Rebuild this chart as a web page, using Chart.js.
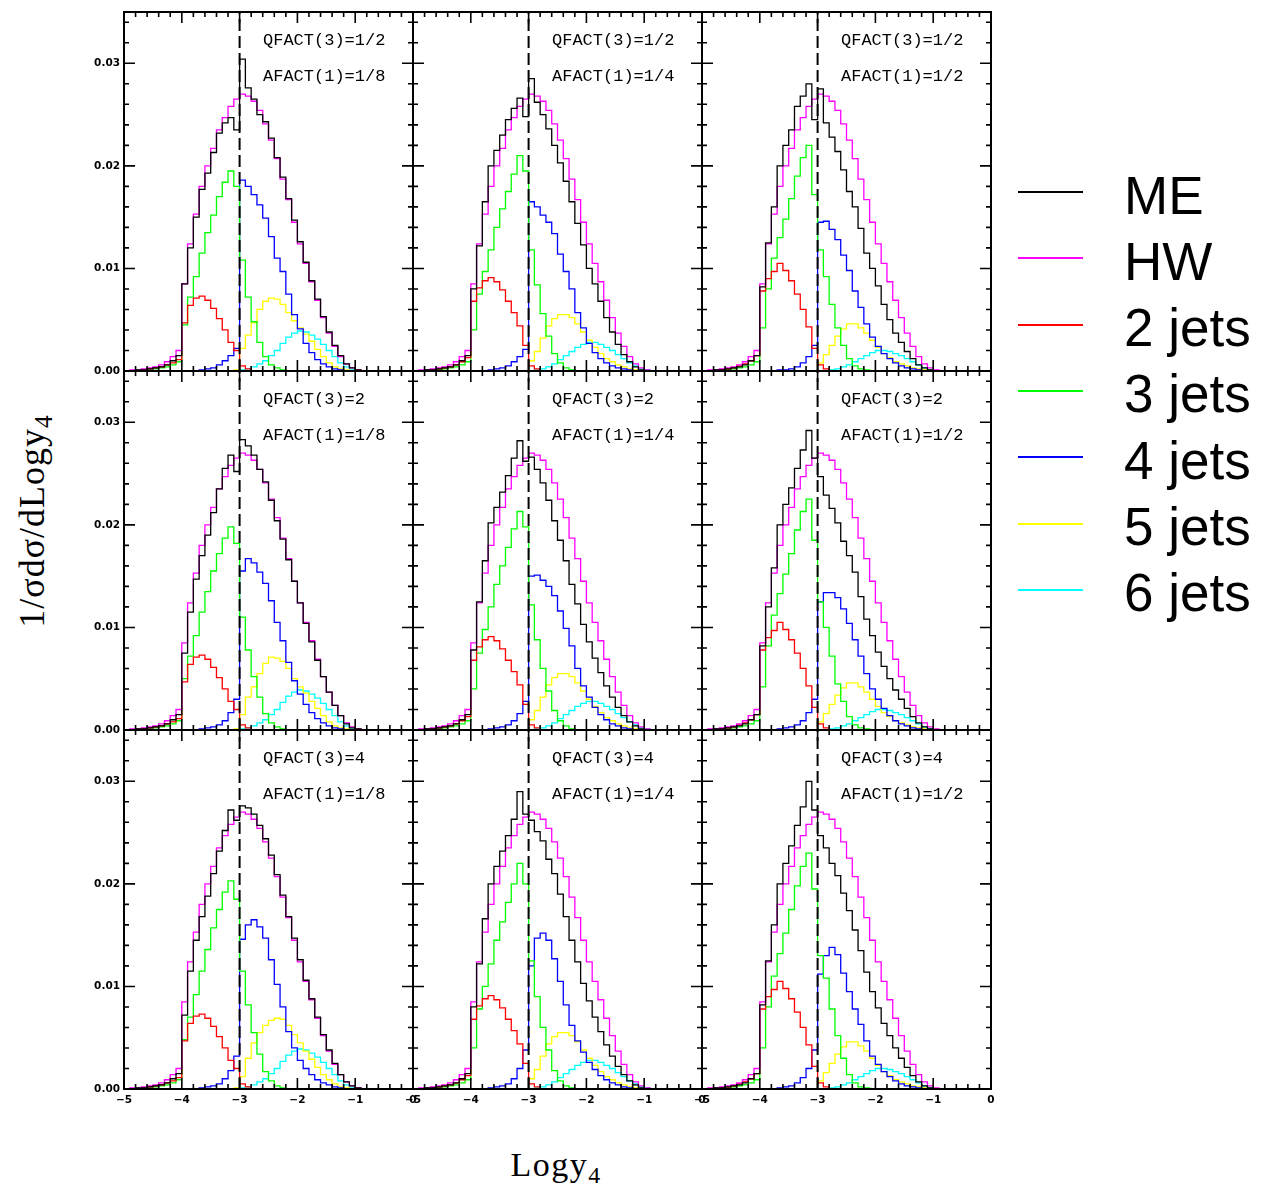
<!DOCTYPE html>
<html>
<head>
<meta charset="utf-8">
<script src="https://cdn.jsdelivr.net/npm/chart.js@4.4.1/dist/chart.umd.min.js"></script>
<style>
  body { margin: 0; background: #fff; width: 1265px; height: 1184px; position: relative; overflow: hidden; }
  canvas { position: absolute; }
  .title { position: absolute; font-family: "Liberation Serif", serif; color: #000; white-space: nowrap; }
  .title sub { font-size: 0.7em; vertical-align: -0.3em; line-height: 0; }
  .leg-line { position: absolute; height: 2px; }
  .leg-text { position: absolute; font-family: "Liberation Sans", Arial, sans-serif; font-size: 53px; line-height: 53px; color: #000; white-space: nowrap; }
</style>
</head>
<body>
<div class="title" id="ytitle" style="font-size:36px;letter-spacing:1px;left:32px;top:521px;transform:translate(-50%,-50%) rotate(-90deg);">1/σdσ/dLogy<sub>4</sub></div>
<div class="title" id="xtitle" style="font-size:34px;letter-spacing:1.5px;left:556px;top:1165px;transform:translate(-50%,-50%);">Logy<sub>4</sub></div>
<div id="legend"></div>
<script>
// histogram bin edges (Logy4), bin width 0.1
const binEdges = [-5.0,-4.9,-4.8,-4.7,-4.6,-4.5,-4.4,-4.3,-4.2,-4.1,
  -4.0,-3.9,-3.8,-3.7,-3.6,-3.5,-3.4,-3.3,-3.2,-3.1,
  -3.0,-2.9,-2.8,-2.7,-2.6,-2.5,-2.4,-2.3,-2.2,-2.1,
  -2.0,-1.9,-1.8,-1.7,-1.6,-1.5,-1.4,-1.3,-1.2,-1.1,
  -1.0,-0.9,-0.8,-0.7,-0.6,-0.5,-0.4,-0.3,-0.2,-0.1,0.0];

// bin contents in units of 1e-4
const UNIT = 1e-4;

const hw = [0,1,1,2,3,4,6,9,14,20, 85,124,153,180,200,217,235,247,258,265, 270,268,263,254,241,225,207,187,167,145, 124,105,87,69,52,37,24,14,7,3, 1,0,0,0,0,0,0,0,0,0];

// AFACT(1)=1/8
const me_q12_a18 = [0,0,1,1,2,3,4,6,10,15, 85,120,150,177,193,213,232,242,247,235, 304,276,265,250,243,227,208,189,168,147, 126,106,88,70,53,38,25,15,7,3, 1,0,0,0,0,0,0,0,0,0];
const me_q2_a18 = [0,0,1,1,2,3,4,6,10,15, 75,115,147,170,190,212,235,255,268,252, 283,277,268,254,242,224,204,186,166,145, 124,104,86,68,52,37,24,14,6,2, 1,0,0,0,0,0,0,0,0,0];
const me_q4_a18 = [0,0,1,1,2,3,4,6,10,15, 72,115,145,168,188,210,232,252,272,262, 276,274,268,257,244,228,209,189,168,147, 126,106,88,70,53,38,25,14,7,3, 1,0,0,0,0,0,0,0,0,0];
const jets2_a18 = [0,0,0,1,2,3,4,6,8,11, 47,64,71,73,69,61,51,40,28,20, 5,2,0,0,0,0,0,0,0,0, 0,0,0,0,0,0,0,0,0,0, 0,0,0,0,0,0,0,0,0,0];
const jets3_q12_a18 = [0,0,1,1,2,2,3,4,6,9, 45,72,92,115,135,152,170,184,195,180, 108,72,48,28,14,6,3,1,0,0, 0,0,0,0,0,0,0,0,0,0, 0,0,0,0,0,0,0,0,0,0];
const jets3_q2_a18 = [0,0,1,1,2,2,3,4,6,9, 50,72,92,115,135,155,172,187,198,182, 110,78,52,32,16,7,3,1,0,0, 0,0,0,0,0,0,0,0,0,0, 0,0,0,0,0,0,0,0,0,0];
const jets3_q4_a18 = [0,0,1,1,2,2,3,4,6,9, 48,70,92,115,136,157,175,192,203,185, 115,82,55,34,17,8,3,1,0,0, 0,0,0,0,0,0,0,0,0,0, 0,0,0,0,0,0,0,0,0,0];
const jets4_q12_a18 = [0,0,0,0,0,0,0,0,0,0, 0,0,0,1,2,3,6,10,15,22, 186,180,172,162,149,131,110,97,75,55, 41,27,18,11,7,4,2,1,0,0, 0,0,0,0,0,0,0,0,0,0];
const jets4_q2_a18 = [0,0,0,0,0,0,0,0,0,0, 0,0,0,1,2,3,5,9,17,30, 155,167,163,154,143,126,105,87,66,48, 35,25,17,11,7,4,2,1,0,0, 0,0,0,0,0,0,0,0,0,0];
const jets4_q4_a18 = [0,0,0,0,0,0,0,0,0,0, 0,0,0,1,2,3,5,10,18,32, 146,160,165,158,147,126,102,80,56,40, 28,20,14,9,6,4,2,1,0,0, 0,0,0,0,0,0,0,0,0,0];
const jets5_q12_a18 = [0,0,0,0,0,0,0,0,0,0, 0,0,0,0,0,0,0,0,0,1, 22,35,47,60,68,71,70,65,57,49, 42,36,29,21,14,8,4,2,1,0, 0,0,0,0,0,0,0,0,0,0];
const jets5_q2_a18 = [0,0,0,0,0,0,0,0,0,0, 0,0,0,0,0,0,0,0,0,1, 15,32,42,55,65,71,70,67,60,50, 42,36,28,21,14,8,4,2,1,0, 0,0,0,0,0,0,0,0,0,0];
const jets5_q4_a18 = [0,0,0,0,0,0,0,0,0,0, 0,0,0,0,0,0,0,0,0,1, 12,30,45,55,62,67,69,68,62,53, 45,37,29,21,14,9,5,2,1,0, 0,0,0,0,0,0,0,0,0,0];
const jets6_a18 = [0,0,0,0,0,0,0,0,0,0, 0,0,0,0,0,0,0,0,0,0, 1,2,4,7,10,15,20,27,33,37, 39,38,35,31,26,20,14,8,4,1, 0,0,0,0,0,0,0,0,0,0];

// AFACT(1)=1/4
const me_q12_a14 = [0,0,1,1,2,3,4,6,10,15, 80,122,165,200,215,230,245,256,266,248, 285,262,250,236,220,203,185,165,144,123, 100,85,68,52,38,26,16,9,4,1, 0,0,0,0,0,0,0,0,0,0];
const me_q2_a14 = [0,0,1,1,2,3,4,6,10,15, 78,125,165,202,217,232,248,265,282,262, 266,254,241,224,204,185,165,142,123,103, 86,70,56,43,32,22,14,8,4,1, 0,0,0,0,0,0,0,0,0,0];
const me_q4_a14 = [0,0,1,1,2,3,4,6,10,15, 80,122,166,200,217,232,247,263,290,268, 262,251,242,224,210,190,168,145,124,103, 86,70,56,43,32,22,14,8,4,1, 0,0,0,0,0,0,0,0,0,0];
const jets2_a14 = [0,0,0,1,2,3,4,6,9,13, 68,81,88,91,87,79,68,57,44,25, 5,2,0,0,0,0,0,0,0,0, 0,0,0,0,0,0,0,0,0,0, 0,0,0,0,0,0,0,0,0,0];
const jets3_q12_a14 = [0,0,1,1,1,2,3,4,6,9, 40,75,97,118,140,158,175,192,210,195, 118,84,56,34,17,8,3,1,0,0, 0,0,0,0,0,0,0,0,0,0, 0,0,0,0,0,0,0,0,0,0];
const jets3_q2_a14 = [0,0,1,1,1,2,3,4,6,9, 40,75,98,120,142,160,178,196,213,198, 122,88,60,38,19,9,4,1,0,0, 0,0,0,0,0,0,0,0,0,0, 0,0,0,0,0,0,0,0,0,0];
const jets3_q4_a14 = [0,0,1,1,1,2,3,4,6,9, 40,78,100,122,145,163,182,200,220,200, 125,90,60,38,18,8,3,1,0,0, 0,0,0,0,0,0,0,0,0,0, 0,0,0,0,0,0,0,0,0,0];
const jets4_q12_a14 = [0,0,0,0,0,0,0,0,0,0, 0,0,0,1,2,3,5,9,14,21, 165,160,152,145,134,114,97,80,57,42, 27,18,12,8,5,3,2,1,0,0, 0,0,0,0,0,0,0,0,0,0];
const jets4_q2_a14 = [0,0,0,0,0,0,0,0,0,0, 0,0,0,1,2,3,5,9,16,28, 150,151,146,140,131,116,99,82,60,43, 32,22,15,10,6,4,2,1,0,0, 0,0,0,0,0,0,0,0,0,0];
const jets4_q4_a14 = [0,0,0,0,0,0,0,0,0,0, 0,0,0,1,2,3,5,10,20,38, 120,147,152,145,127,105,82,62,47,36, 26,19,13,9,6,4,2,1,0,0, 0,0,0,0,0,0,0,0,0,0];
const jets5_a14 = [0,0,0,0,0,0,0,0,0,0, 0,0,0,0,0,0,0,0,0,0, 10,19,32,44,51,55,55,52,46,38, 30,23,17,12,9,6,4,2,1,0, 0,0,0,0,0,0,0,0,0,0];
const jets6_a14 = [0,0,0,0,0,0,0,0,0,0, 0,0,0,0,0,0,0,0,0,0, 0,1,2,4,7,11,15,19,23,26, 28,28,26,23,20,16,12,8,5,2, 1,0,0,0,0,0,0,0,0,0];

// AFACT(1)=1/2
const me_q12_a12 = [0,0,1,1,2,3,4,6,10,15, 82,125,160,200,220,235,258,268,280,245, 275,242,228,214,196,175,160,139,115,100, 83,65,50,37,28,19,12,6,3,1, 0,0,0,0,0,0,0,0,0,0];
const me_q2_a12 = [0,0,1,1,2,3,4,6,10,15, 82,120,158,200,220,236,255,273,292,265, 247,229,216,202,184,170,154,130,108,92, 76,62,50,39,30,21,13,7,3,1, 0,0,0,0,0,0,0,0,0,0];
const me_q4_a12 = [0,0,1,1,2,3,4,6,10,15, 82,125,160,200,220,237,257,275,300,272, 247,235,220,208,191,174,155,135,114,95, 79,64,52,40,30,21,13,7,3,1, 0,0,0,0,0,0,0,0,0,0];
const jets2_a12 = [0,0,0,1,2,3,5,7,10,15, 78,90,97,105,98,88,75,60,43,22, 6,2,0,0,0,0,0,0,0,0, 0,0,0,0,0,0,0,0,0,0, 0,0,0,0,0,0,0,0,0,0];
const jets3_q12_a12 = [0,0,1,1,1,2,3,4,6,9, 42,80,110,130,148,168,190,208,220,172, 118,92,65,42,25,12,5,2,1,0, 0,0,0,0,0,0,0,0,0,0, 0,0,0,0,0,0,0,0,0,0];
const jets3_q2_a12 = [0,0,1,1,1,2,3,4,6,9, 42,82,112,133,152,172,195,213,225,185, 125,100,72,45,28,13,5,2,1,0, 0,0,0,0,0,0,0,0,0,0, 0,0,0,0,0,0,0,0,0,0];
const jets3_q4_a12 = [0,0,1,1,1,2,3,4,6,9, 40,80,110,132,152,175,198,217,230,195, 130,108,78,52,30,14,6,2,1,0, 0,0,0,0,0,0,0,0,0,0, 0,0,0,0,0,0,0,0,0,0];
const jets4_q12_a12 = [0,0,0,0,0,0,0,0,0,0, 0,0,0,1,1,2,4,8,14,25, 145,146,138,128,113,98,78,62,46,33, 24,17,12,8,5,3,2,1,0,0, 0,0,0,0,0,0,0,0,0,0];
const jets4_q2_a12 = [0,0,0,0,0,0,0,0,0,0, 0,0,0,1,2,3,5,9,17,30, 125,134,134,129,118,104,88,72,55,40, 30,21,14,9,6,4,2,1,0,0, 0,0,0,0,0,0,0,0,0,0];
const jets4_q4_a12 = [0,0,0,0,0,0,0,0,0,0, 0,0,0,1,2,3,6,11,20,38, 112,130,138,131,113,95,78,63,47,32, 24,17,12,8,5,3,2,1,0,0, 0,0,0,0,0,0,0,0,0,0];
const jets5_a12 = [0,0,0,0,0,0,0,0,0,0, 0,0,0,0,0,0,0,0,0,0, 8,16,25,34,41,46,46,42,37,30, 23,17,13,9,7,5,3,2,1,0, 0,0,0,0,0,0,0,0,0,0];
const jets6_a12 = [0,0,0,0,0,0,0,0,0,0, 0,0,0,0,0,0,0,0,0,0, 0,0,1,2,4,6,9,12,15,18, 20,20,19,17,15,12,9,6,3,1, 0,0,0,0,0,0,0,0,0,0];

const seriesNames = ['ME', 'HW', '2 jets', '3 jets', '4 jets', '5 jets', '6 jets'];
const seriesColors = ['#000000', '#ff00ff', '#ff0000', '#00ff00', '#0000ff', '#ffff00', '#00ffff'];
const qLabels = ['1/2', '2', '4'];
const aLabels = ['1/8', '1/4', '1/2'];

// rows = QFACT(3), cols = AFACT(1); series order ME, HW, 2..6 jets
const panelSeries = [
  [[me_q12_a18, hw, jets2_a18, jets3_q12_a18, jets4_q12_a18, jets5_q12_a18, jets6_a18],
   [me_q12_a14, hw, jets2_a14, jets3_q12_a14, jets4_q12_a14, jets5_a14, jets6_a14],
   [me_q12_a12, hw, jets2_a12, jets3_q12_a12, jets4_q12_a12, jets5_a12, jets6_a12]],
  [[me_q2_a18, hw, jets2_a18, jets3_q2_a18, jets4_q2_a18, jets5_q2_a18, jets6_a18],
   [me_q2_a14, hw, jets2_a14, jets3_q2_a14, jets4_q2_a14, jets5_a14, jets6_a14],
   [me_q2_a12, hw, jets2_a12, jets3_q2_a12, jets4_q2_a12, jets5_a12, jets6_a12]],
  [[me_q4_a18, hw, jets2_a18, jets3_q4_a18, jets4_q4_a18, jets5_q4_a18, jets6_a18],
   [me_q4_a14, hw, jets2_a14, jets3_q4_a14, jets4_q4_a14, jets5_a14, jets6_a14],
   [me_q4_a12, hw, jets2_a12, jets3_q4_a12, jets4_q4_a12, jets5_a12, jets6_a12]]
];

// layout of the 3x3 grid (page pixels)
const PLOT_LEFT = [124, 413, 702];
const PLOT_TOP = [12, 371, 730];
const PLOT_W = 289;
const PLOT_H = 359;
const MARGIN_X = 50, MARGIN_TOP = 10, MARGIN_BOTTOM = 40;
const Y_AXIS_W = 40, X_AXIS_H = 22;
const TICK_FONT = { family: '"DejaVu Sans", sans-serif', size: 10.5, weight: 'bold' };

const toPoints = vals => binEdges.map((x, i) => ({ x, y: i < vals.length ? vals[i] * UNIT : 0 }));

// frame with inward ticks on all four sides plus the two parameter labels
const panelFrame = {
  id: 'panelFrame',
  afterDraw(chart, args, opts) {
    const { ctx, chartArea: { left, right, top, bottom }, scales: { x, y } } = chart;
    ctx.save();
    ctx.strokeStyle = '#000';
    ctx.lineWidth = 1.6;
    ctx.beginPath();
    for (let k = 0; k <= 25; k++) {
      const px = x.getPixelForValue(-5 + k * 0.2);
      const len = k % 5 === 0 ? 11 : 5;
      ctx.moveTo(px, bottom); ctx.lineTo(px, bottom - len);
      ctx.moveTo(px, top); ctx.lineTo(px, top + len);
    }
    for (let k = 0; k <= 17; k++) {
      const py = y.getPixelForValue(k * 0.002);
      const len = k % 5 === 0 ? 11 : 5;
      ctx.moveTo(left, py); ctx.lineTo(left + len, py);
      ctx.moveTo(right, py); ctx.lineTo(right - len, py);
    }
    ctx.stroke();
    ctx.lineWidth = 2;
    ctx.strokeRect(left, top, right - left, bottom - top);
    ctx.fillStyle = '#000';
    ctx.font = '17px "Liberation Mono", monospace';
    ctx.textBaseline = 'middle';
    ctx.fillText(opts.lines[0], left + 139, top + 28);
    ctx.fillText(opts.lines[1], left + 139, top + 64);
    ctx.restore();
  }
};

function makePanel(row, col) {
  const canvas = document.createElement('canvas');
  canvas.width = PLOT_W + 2 * MARGIN_X;
  canvas.height = PLOT_H + MARGIN_TOP + MARGIN_BOTTOM;
  canvas.style.left = (PLOT_LEFT[col] - MARGIN_X) + 'px';
  canvas.style.top = (PLOT_TOP[row] - MARGIN_TOP) + 'px';
  document.body.appendChild(canvas);

  const showY = col === 0;
  const showX = row === 2;

  const datasets = [{
    data: [{ x: -3, y: 0 }, { x: -3, y: 0.035 }],
    borderColor: '#000', borderWidth: 2, borderDash: [12, 5], pointRadius: 0
  }];
  panelSeries[row][col].forEach((vals, i) => {
    datasets.push({
      label: seriesNames[i],
      data: toPoints(vals),
      borderColor: seriesColors[i],
      borderWidth: 1.3,
      stepped: true,
      pointRadius: 0,
      fill: false
    });
  });

  return new Chart(canvas, {
    type: 'line',
    data: { datasets },
    plugins: [panelFrame],
    options: {
      responsive: false,
      animation: false,
      events: [],
      layout: {
        padding: {
          left: showY ? MARGIN_X - Y_AXIS_W : MARGIN_X,
          right: MARGIN_X,
          top: MARGIN_TOP,
          bottom: showX ? MARGIN_BOTTOM - X_AXIS_H : MARGIN_BOTTOM
        }
      },
      scales: {
        x: {
          type: 'linear', min: -5, max: 0, display: showX,
          grid: { display: false, drawTicks: false },
          border: { display: false },
          ticks: {
            stepSize: 1, autoSkip: false, maxRotation: 0, padding: 5,
            color: '#000', font: TICK_FONT,
            callback: v => v === 0 ? '0' : '\u2212' + Math.abs(v)
          },
          afterFit: s => { s.height = showX ? X_AXIS_H : 0; s.paddingLeft = 0; s.paddingRight = 0; }
        },
        y: {
          type: 'linear', min: 0, max: 0.035, display: showY,
          grid: { display: false, drawTicks: false },
          border: { display: false },
          ticks: {
            stepSize: 0.01, includeBounds: false, padding: 4,
            color: '#000', font: TICK_FONT,
            callback: v => v.toFixed(2)
          },
          afterFit: s => { s.width = showY ? Y_AXIS_W : 0; s.paddingTop = 0; s.paddingBottom = 0; }
        }
      },
      plugins: {
        legend: { display: false },
        tooltip: { enabled: false },
        panelFrame: { lines: ['QFACT(3)=' + qLabels[row], 'AFACT(1)=' + aLabels[col]] }
      }
    }
  });
}

for (let r = 0; r < 3; r++) {
  for (let c = 0; c < 3; c++) makePanel(r, c);
}

// legend on the right
const legend = document.getElementById('legend');
seriesNames.forEach((name, i) => {
  const yc = 192 + i * 66.3;
  const line = document.createElement('div');
  line.className = 'leg-line';
  line.style.cssText = `left:1018px;width:65px;top:${yc - 1}px;background:${seriesColors[i]}`;
  legend.appendChild(line);
  const text = document.createElement('div');
  text.className = 'leg-text';
  text.style.cssText = `left:1124px;top:${yc - 23.5}px`;
  text.textContent = name;
  legend.appendChild(text);
});
</script>
</body>
</html>
